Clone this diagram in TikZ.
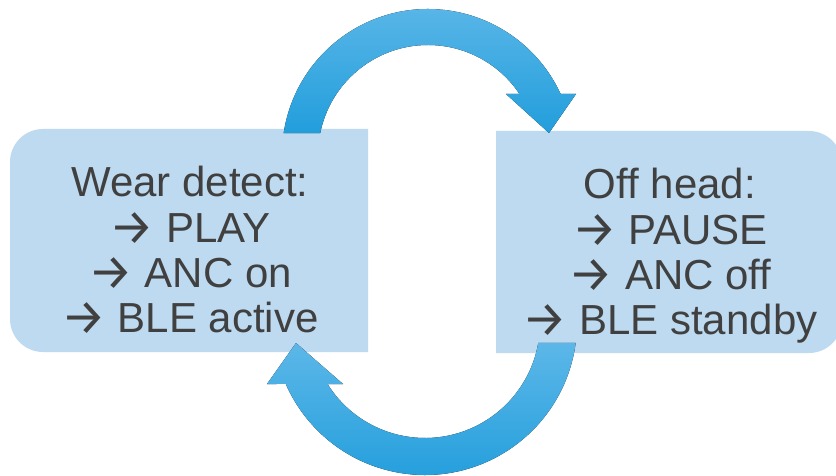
\documentclass[tikz,border=0pt]{standalone}
\usepackage{fontspec}
\setmainfont{Liberation Sans}
\newfontfamily\arrfont{Fira Sans}
\newcommand{\rarr}{\raisebox{-2pt}{\arrfont\fontsize{50}{45.3}\selectfont →}}
\usetikzlibrary{calc}
\definecolor{boxfill}{RGB}{190,218,240}
\definecolor{txtcol}{RGB}{64,64,64}
\definecolor{arrtop}{RGB}{92,183,232}
\definecolor{arrbot}{RGB}{34,158,220}
\tikzset{
  boxshape/.style={fill=boxfill},
  cyclearrow/.style={top color=arrtop,bottom color=arrbot,draw=none},
  boxtext/.style={inner sep=0pt,align=center,text=txtcol,font=\fontsize{42}{45.3}\selectfont}
}
\begin{document}
\begin{tikzpicture}[x=1pt,y=1pt]
\useasboundingbox (0,0) rectangle (836,475);
% boxes
\fill[boxshape] (368,123) -- (43,123) arc[start angle=270,end angle=180,radius=33]
  -- (10,313) arc[start angle=180,end angle=90,radius=33] -- (368,346) -- cycle;
\fill[boxshape] (496,122) -- (809,122) arc[start angle=-90,end angle=0,radius=33]
  -- (842,311) arc[start angle=0,end angle=90,radius=33] -- (496,344) -- cycle;
% text
\node[boxtext] (wear) at (190,224.5) {Wear detect:\\\rarr{} PLAY\\\rarr{} ANC on\\\rarr{} BLE active};
\node[boxtext] (off) at (670,219) {Off head:\\\rarr{} PAUSE\\\rarr{} ANC off\\\rarr{} BLE standby};
% circular arrows
\coordinate (ctop) at (428,320);
\coordinate (cbot) at (425,152);
\fill[cyclearrow] ($(ctop)+(171.34:146)$) arc[start angle=171.34,end angle=24.7,radius=146]
  -- (576,381) -- (549,342) -- (506,381)
  -- ($(ctop)+(33.7:110)$) arc[start angle=33.7,end angle=168.5,radius=110] -- cycle;
\fill[cyclearrow] ($(cbot)+(-7.56:152)$) arc[start angle=-7.56,end angle=-156.34,radius=152]
  -- (267,91) -- (296,132) -- (343,91)
  -- ($(cbot)+(-147.96:115)$) arc[start angle=-147.96,end angle=-10,radius=115] -- cycle;
\end{tikzpicture}
\end{document}
